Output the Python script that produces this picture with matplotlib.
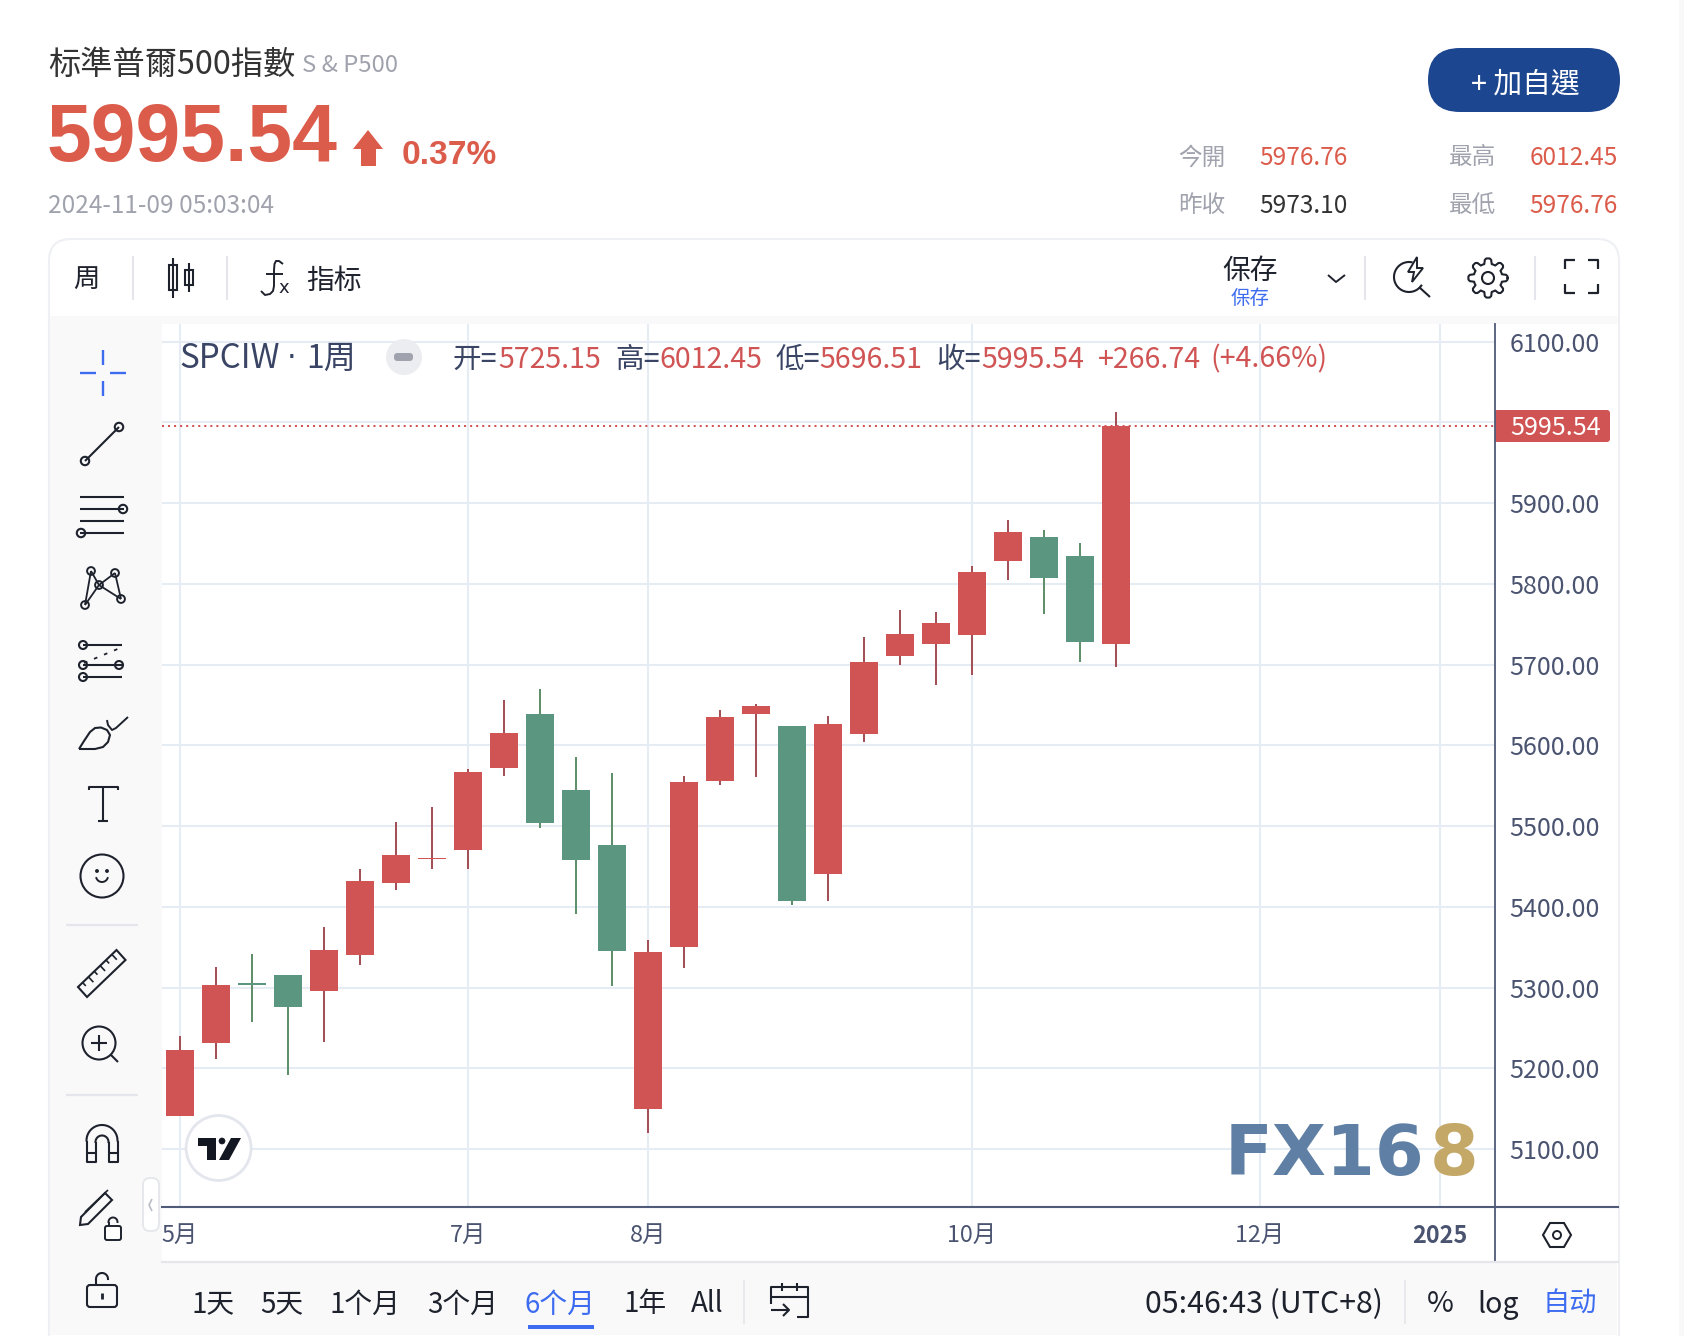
import numpy as np
import matplotlib
matplotlib.use("Agg")
import matplotlib.pyplot as plt
from matplotlib.patches import Circle, Ellipse, FancyBboxPatch, Polygon, Rectangle
from matplotlib.transforms import blended_transform_factory

plt.rcParams['font.family'] = ['Noto Sans CJK TC', 'DejaVu Sans']

# weekly candles
opens = [5140.8, 5230.8, 5306, 5315, 5295.2, 5339.8, 5429, 5458.7, 5470.3, 5571.8, 5638.8, 5544.6, 5476.5,
         5149.5, 5350.2, 5555.8, 5638.5, 5623.6, 5440.3, 5613.7, 5710.5, 5725.4, 5736.5, 5828.2, 5857.8, 5834.4, 5725.15]
highs = [5239.5, 5325, 5341, 5315, 5374.5, 5446.3, 5504.5, 5523, 5570.8, 5656.1, 5669.8, 5585.5, 5565.8,
         5358.8, 5561.8, 5643.8, 5650.8, 5623.6, 5635.8, 5733.8, 5767.5, 5764.8, 5821.8, 5878.8, 5866.8, 5850.8, 6012.45]
lows = [5140.8, 5211, 5256.8, 5191, 5233, 5327.4, 5420.3, 5446.3, 5446.8, 5561.8, 5497.8, 5390.8, 5301.8,
        5119.8, 5324.2, 5550.8, 5560.4, 5401.8, 5406.8, 5603.8, 5699.4, 5674.6, 5686.8, 5804.7, 5762.6, 5703.1, 5696.51]
closes = [5222, 5302.6, 5303, 5275.4, 5346, 5431.5, 5463.7, 5461, 5566.8, 5615.3, 5503.8, 5457.8, 5345.2,
          5343.8, 5554.6, 5635.1, 5648.4, 5406.8, 5625.8, 5702.8, 5737.8, 5751.4, 5814.6, 5864.1, 5806.8, 5727.8, 5995.54]
price_ticks = [5100, 5200, 5300, 5400, 5500, 5600, 5700, 5800, 5900, 6000, 6100]
date_ticks = [0, 8, 13, 22, 30, 35]
date_labels = ['5月', '7月', '8月', '10月', '12月', '2025']

RED = '#D05454'
RED_WICK = '#A35058'
GREEN = '#5B9681'
GREEN_WICK = '#5F8F6B'
GRID = '#E5ECF3'
AXIS = '#4F5B78'
TICK = '#4A5470'
SOFT = '#F9F9FA'
LINE = '#E4E6EB'
BLUE = '#3D6CF0'
INK = '#1E222D'
QUOTE = '#DC5C4C'
GRAY = '#A0A3AD'
W, H = 1684, 1336


def px_axes(z):
    a = fig.add_axes([0, 0, 1, 1], zorder=z)
    a.set_xlim(0, W)
    a.set_ylim(H, 0)
    a.axis('off')
    a.patch.set_alpha(0)
    return a


fig = plt.figure(figsize=(W / 100, H / 100), dpi=100, facecolor='white')
bg = px_axes(0)
ov = px_axes(2)

# card and panels
bg.add_patch(FancyBboxPatch((49, 239), 1570, 1130, boxstyle='round,pad=0,rounding_size=22', fc='white', ec='#EEF0F4', lw=1.5))
bg.add_patch(Rectangle((50, 316), 1568, 8, fc=SOFT, ec='none'))
bg.add_patch(Rectangle((50, 316), 112, 1019, fc=SOFT, ec='none'))
bg.add_patch(Rectangle((162, 1263), 1455, 72, fc=SOFT, ec='none'))
bg.add_patch(Rectangle((1679, 0), 5, H, fc='#F8F8F9', ec='none'))
# last price tag sits under the axes text
bg.add_patch(FancyBboxPatch((1494, 410), 116, 32, boxstyle='round,pad=0,rounding_size=3', fc=RED, ec='none'))

# chart
ax = fig.add_axes([162 / W, 1 - 1207 / H, (1495 - 162) / W, (1207 - 324) / H], zorder=1)
x = np.arange(len(opens))
up = [c >= o for o, c in zip(opens, closes)]
ax.vlines(x, lows, highs, colors=[RED_WICK if u else GREEN_WICK for u in up], lw=1.45, zorder=3)
ax.bar(x, [abs(c - o) for o, c in zip(opens, closes)], bottom=[min(o, c) for o, c in zip(opens, closes)],
       width=0.78, color=[RED if u else GREEN for u in up], zorder=4)
ax.axhline(closes[-1], color=RED, lw=1.45, linestyle=(0, (1, 2)), zorder=5)
ax.set_xlim(-0.5, 36.53)
ax.set_ylim(5028.1, 6121.9)
ax.set_xticks(date_ticks)
ax.set_xticklabels(date_labels)
ax.set_yticks(price_ticks)
# the 6000 label is hidden behind the last price tag
ax.set_yticklabels(['' if p == 6000 else '%.2f' % p for p in price_ticks])
ax.yaxis.tick_right()
ax.grid(True, color=GRID, lw=1.45, zorder=1)
ax.set_axisbelow(True)
ax.tick_params(axis='both', length=0, labelcolor=TICK)
ax.tick_params(axis='y', pad=10.5, labelsize=18)
ax.tick_params(axis='x', pad=12.5, labelsize=16.8)
ax.get_xticklabels()[-1].set_fontweight('bold')
for s in ['top', 'left']:
    ax.spines[s].set_visible(False)
ax.spines['bottom'].set_color(AXIS)
ax.spines['bottom'].set_linewidth(1.5)
ax.spines['right'].set_color(AXIS)
ax.spines['right'].set_linewidth(1.3)

ax.text(1.0113, closes[-1] - 3, '%.2f' % closes[-1], transform=blended_transform_factory(ax.transAxes, ax.transData),
        color='white', fontsize=18, va='center', zorder=6, clip_on=False)
# axis extensions
ov.plot([1495, 1618], [1207, 1207], color=AXIS, lw=1.5)
ov.plot([1495, 1495], [1207, 1262], color=AXIS, lw=1.3)
ov.plot([162, 1618], [1262, 1262], color=LINE, lw=1.6)


def txt(px, py, s, size=19, color=INK, ha='left', **kw):
    return ov.text(px, py, s, fontsize=size, color=color, ha=ha, va='center', **kw)


def line(xs, ys, color=INK, lw=1.5, **kw):
    ov.plot(xs, ys, color=color, lw=lw, solid_capstyle=kw.pop('cap', 'butt'), **kw)


def ring(cx, cy, r, color=INK, lw=1.5, fc='none'):
    ov.add_patch(Circle((cx, cy), r, fc=fc, ec=color, lw=lw))


def arc(cx, cy, r, a0, a1, color=INK, lw=1.5):
    t = np.radians(np.linspace(a0, a1, 40))
    ov.plot(cx + r * np.cos(t), cy - r * np.sin(t), color=color, lw=lw)


# quote header
txt(48, 65, '标準普爾500指數', 23.2, '#333333')
txt(302, 66, 'S & P500', 17.2, GRAY)
txt(47, 140.5, '5995.54', 58, QUOTE, family='Liberation Sans', fontweight='bold')
ov.add_patch(Polygon([(368, 130), (383, 149), (376, 149), (376, 166), (361, 166), (361, 149), (353, 149)], fc=QUOTE, ec='none'))
txt(402, 155, '0.37%', 24.1, QUOTE, family='Liberation Sans', fontweight='bold')
txt(48, 206, '2024-11-09 05:03:04', 17.5, GRAY)
ov.add_patch(FancyBboxPatch((1428, 48), 192, 64, boxstyle='round,pad=0,rounding_size=32', fc='#1C4690', ec='none'))
txt(1525, 85, '+ 加自選', 20.7, 'white', ha='center')
txt(1178, 158, '今開', 17, GRAY)
txt(1178, 206, '昨收', 17, GRAY)
txt(1449, 158, '最高', 17, GRAY)
txt(1449, 206, '最低', 17, GRAY)
txt(1348, 158, '5976.76', 17.6, QUOTE, ha='right')
txt(1348, 206, '5973.10', 17.6, '#333333', ha='right')
txt(1618, 158, '6012.45', 17.6, QUOTE, ha='right')
txt(1618, 206, '5976.76', 17.6, QUOTE, ha='right')

# top toolbar
txt(86, 280, '周', 19, ha='center')
for dx in [133, 227, 1365, 1535]:
    line([dx, dx], [256, 300], LINE, 1.5)
line([173, 173], [258, 298])
ov.add_patch(Rectangle((169, 265), 8, 25, fc='white', ec=INK, lw=1.5))
line([189, 189], [263, 292])
ov.add_patch(Rectangle((185, 270), 8, 15, fc='white', ec=INK, lw=1.5))
line([283, 279, 276, 274.5, 274, 274, 273, 270, 265, 261], [264, 261, 261, 264, 270, 286, 291, 294, 295, 291], INK, 1.4)
line([266, 283], [274, 274], INK, 1.4)
txt(278, 288, 'x', 13, family='DejaVu Sans')
txt(306, 281, '指标', 20)
txt(1250, 271, '保存', 20, ha='center')
txt(1250, 299, '保存', 14, BLUE, ha='center')
line([1328, 1336, 1345], [275, 282, 275], INK, 1.4)
arc(1409, 277, 15, 80, 325)
ov.add_patch(Polygon([(1417, 257), (1408, 272), (1414, 272), (1412, 282), (1423, 268), (1417, 268)], fc='white', ec=INK, lw=1.4))
line([1419, 1430], [287, 297])
# gear
a = np.radians(np.arange(0, 365, 5))
rad = 17 + 2.6 * np.clip(3 * np.cos(8 * a), -1, 1)
ov.plot(1488 + rad * np.cos(a), 278 + rad * np.sin(a), color=INK, lw=1.5)
ring(1488, 278, 6)
for cx, cy, sx, sy in [(1565, 260, 1, 1), (1598, 260, -1, 1), (1565, 293, 1, -1), (1598, 293, -1, -1)]:
    line([cx + 10 * sx, cx, cx], [cy, cy, cy + 9 * sy], INK, 1.6)

# left toolbar
line([80, 96], [373, 373], BLUE, 1.7)
line([110, 126], [373, 373], BLUE, 1.7)
line([103, 103], [350, 365], BLUE, 1.7)
line([103, 103], [381, 396], BLUE, 1.7)
line([85, 119], [461, 427])
ring(85, 461, 4.2, fc=SOFT)
ring(119, 427, 4.2, fc=SOFT)
for ly in [497, 509, 521, 533]:
    line([80, 124], [ly, ly])
ring(123, 509, 4.2, fc=SOFT)
ring(81, 533, 4.2, fc=SOFT)
net = [(91, 571), (115, 573), (99, 585), (85, 605), (121, 599)]
for i, j in [(0, 3), (0, 2), (2, 1), (2, 4), (1, 4), (2, 3)]:
    line([net[i][0], net[j][0]], [net[i][1], net[j][1]], INK, 1.3)
for n in net:
    ring(n[0], n[1], 3.9, lw=1.4, fc=SOFT)
for ly in [645, 665, 677]:
    line([83, 122], [ly, ly])
line([84, 120], [663, 648], INK, 1.3, linestyle=(0, (2, 4)))
for cx, cy in [(83, 645), (83, 665), (119, 665), (83, 677)]:
    ring(cx, cy, 4, fc=SOFT)
# brush
line([79, 84, 90, 95, 101, 107, 110, 108, 103, 95, 79], [749, 741, 732, 728, 727.5, 730, 735, 742, 747, 749, 749], INK, 1.5)
line([107, 108, 112, 116, 128], [720, 725, 730, 728, 717], INK, 1.4)
# T
line([89, 89, 118, 118], [790, 787, 787, 790], INK, 1.5)
line([103, 103], [787, 821], INK, 1.5)
line([98, 108], [821, 821], INK, 1.5)
# smiley
ring(102, 876, 21.5)
ring(97, 871, 0.9, fc=INK)
ring(107, 871, 0.9, fc=INK)
arc(102, 876, 6, 200, 340, INK, 1.4)
line([66, 138], [925, 925], LINE, 1.6)
line([66, 138], [1095, 1095], LINE, 1.6)
# ruler
ov.add_patch(Polygon([(116.5, 950), (125.5, 960), (87, 997), (78, 987)], fc='none', ec=INK, lw=1.5))
for k in np.linspace(0.12, 0.88, 6):
    bx, by = 78 + k * 38.5, 987 - k * 37
    s = 7 if round(k * 10) % 3 == 0 else 4.5
    line([bx, bx + s * 0.7], [by, by + s * 0.75], INK, 1.2)
# zoom
ring(99, 1043, 16.5)
line([91, 107], [1043, 1043])
line([99, 99], [1035, 1051])
line([111, 118], [1055, 1062])
# magnet
arc(102, 1140.5, 15.5, 0, 180)
arc(102, 1142, 6.5, 0, 180)
line([86.5, 86.5, 95.5, 95.5], [1140.5, 1162, 1162, 1142])
line([108.5, 108.5, 117.5, 117.5], [1142, 1162, 1162, 1140.5])
line([86.5, 95.5], [1153, 1153])
line([108.5, 117.5], [1153, 1153])
# pencil and locks
ov.add_patch(Polygon([(105, 1193), (112, 1200), (88, 1224), (80, 1225), (81, 1217)], fc='none', ec=INK, lw=1.5))
line([85, 108], [1212, 1190], INK, 1.2)
ov.add_patch(FancyBboxPatch((105, 1226), 16, 14, boxstyle='round,pad=0,rounding_size=2', fc='white', ec=INK, lw=1.4))
arc(113, 1222, 4.5, 0, 180, INK, 1.4)
line([108.5, 108.5], [1222, 1226], INK, 1.4)
ov.add_patch(FancyBboxPatch((87, 1285), 30, 22, boxstyle='round,pad=0,rounding_size=3', fc='none', ec=INK, lw=1.5))
arc(102, 1279, 6, 0, 180)
line([96, 96], [1279, 1285])
line([102, 102], [1293, 1299], INK, 2)
ov.add_patch(FancyBboxPatch((143, 1178), 16, 53, boxstyle='round,pad=0,rounding_size=7', fc='white', ec=LINE, lw=1.3))
line([152, 149, 152], [1199, 1205, 1211], '#B8BCC6', 1.2)

# legend row
txt(179, 359, 'SPCIW', 23.8, '#3A4565')
txt(292, 359, '·', 22, '#3A4565', ha='center', family='DejaVu Sans')
txt(306, 359, '1周', 23, '#3A4565')
ov.add_patch(Ellipse((404, 357), 36, 36, fc='#ECEDF0', ec='none'))
ov.add_patch(FancyBboxPatch((394, 353), 19, 8, boxstyle='round,pad=0,rounding_size=3.5', fc=GRAY, ec='none'))
for px, s, col in [(453, '开=', '#3A4565'), (498, '5725.15', RED), (615, '高=', '#3A4565'), (659, '6012.45', RED),
                   (776, '低=', '#3A4565'), (819, '5696.51', RED), (936, '收=', '#3A4565'), (981, '5995.54', RED),
                   (1098, '+266.74', RED), (1210, '(+4.66%)', RED)]:
    txt(px, 359.5, s, 20.6, col)

# tradingview badge
ring(218.6, 1148, 32.5, '#E4E6EE', 2, fc='white')
logo = [[(198, 1138), (216, 1138), (216, 1160), (207, 1160), (207, 1146), (198, 1146)],
        [(231, 1138), (241, 1138), (229, 1160), (219, 1160)]]
for p in logo:
    ov.add_patch(Polygon(p, fc='#131722', ec='none'))
ring(222, 1141, 3, '#131722', 0.5, fc='#131722')

# watermark
txt(1225, 1156, 'FX16', 50.5, '#5F80A4', family='DejaVu Sans', fontweight='bold')
txt(1478, 1156, '8', 50.5, '#C4A868', ha='right', family='DejaVu Sans', fontweight='bold')

# bottom toolbar
for px, s, col in [(192, '1天', INK), (260, '5天', INK), (330, '1个月', INK), (427, '3个月', INK),
                   (524, '6个月', BLUE), (623, '1年', INK), (691, 'All', INK)]:
    txt(px, 1304.5, s, 20, col)
ov.add_patch(Rectangle((528, 1325), 66, 4, fc=BLUE, ec='none'))
line([744, 744], [1280, 1324], LINE, 1.2)
line([1405, 1405], [1280, 1324], LINE, 1.2)
line([771, 771, 808, 808, 797], [1304, 1287, 1287, 1317, 1317])
line([771, 808], [1297, 1297])
line([782, 782], [1283, 1291])
line([797, 797], [1283, 1291])
line([771, 789], [1310, 1310])
line([783, 789, 783], [1304, 1310, 1316])
txt(1145, 1304.5, '05:46:43 (UTC+8)', 21.8)
txt(1440, 1304.5, '%', 21, ha='center')
txt(1498, 1304.5, 'log', 20.5, ha='center')
txt(1543, 1304.5, '自动', 19.6, BLUE)
ov.add_patch(Polygon([(1543, 1235), (1550, 1223), (1564, 1223), (1571, 1235), (1564, 1247), (1550, 1247)], fc='none', ec=INK, lw=1.5))
ring(1557, 1235, 4, lw=1.4)

fig.savefig('out.png', dpi=100)
